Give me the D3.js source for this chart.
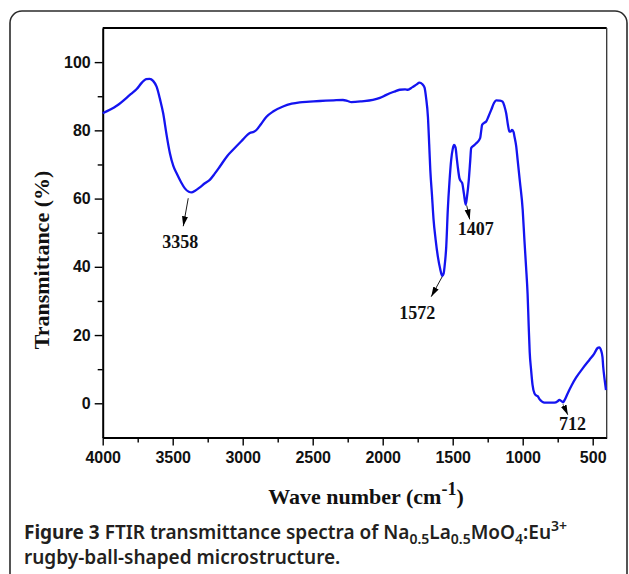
<!DOCTYPE html>
<html>
<head>
<meta charset="utf-8">
<script src="https://cdn.jsdelivr.net/npm/d3@7"></script>
<style>
    body { margin: 0; background: #fff; }
    svg { display: block; }
</style>
</head>
<body>
<svg id="chart" width="629" height="574"></svg>
<script>

// Data
const wavenumber = [
    4000, 3900, 3800, 3757, 3720, 3690, 3665, 3640, 3615, 3590, 3568, 3545, 3520, 3495, 3472,
    3440, 3413, 3385, 3365, 3340, 3306, 3270, 3235, 3200, 3163, 3110, 3069, 3010, 2949, 2920,
    2902, 2870, 2830, 2780, 2712, 2650, 2593, 2521, 2450, 2350, 2284, 2250, 2224, 2150, 2070,
    2020, 1974, 1920, 1879, 1840, 1820, 1790, 1760, 1737, 1718, 1701, 1690, 1677, 1668, 1660,
    1648, 1637, 1622, 1606, 1590, 1575, 1565, 1558, 1546, 1535, 1523, 1511, 1500, 1490, 1480,
    1470, 1464, 1452, 1440, 1432, 1420, 1407, 1398, 1385, 1375, 1368, 1350, 1332, 1304, 1296,
    1290, 1275, 1261, 1245, 1225, 1205, 1190, 1165, 1143, 1130, 1118, 1105, 1095, 1085, 1076,
    1065, 1059, 1047, 1036, 1020, 1000, 988, 976, 965, 957, 950, 940, 930, 916, 904,
    893, 880, 862, 845, 800, 774, 750, 738, 725, 712, 700, 679, 650, 619, 570,
    524, 490, 465, 453, 441, 430, 425, 415, 405
];
const transmittance = [
    85.0, 87.2, 90.6, 92.1, 94.0, 95.0, 95.1, 94.5, 92.8, 89.0, 85.0, 79.0, 73.3, 69.5, 67.4,
    64.8, 63.0, 62.0, 61.8, 62.3, 63.3, 64.5, 65.5, 67.3, 69.4, 72.5, 74.3, 76.8, 79.2, 79.6,
    80.1, 81.8, 84.0, 85.6, 87.0, 87.8, 88.2, 88.4, 88.6, 88.8, 88.9, 88.6, 88.3, 88.5, 88.9,
    89.5, 90.4, 91.3, 91.9, 92.0, 91.9, 92.6, 93.4, 94.0, 93.6, 92.5, 89.5, 84.0, 76.0, 68.4,
    61.0, 54.0, 48.0, 43.0, 39.5, 37.3, 38.0, 40.1, 46.0, 56.7, 65.0, 71.3, 74.5, 75.7, 75.0,
    71.5, 69.4, 66.0, 65.0, 64.5, 61.5, 58.2, 60.5, 65.5, 71.0, 74.8, 75.5, 76.2, 77.7, 80.0,
    81.6, 82.2, 82.6, 84.0, 86.0, 88.0, 88.8, 88.7, 88.4, 87.0, 85.0, 81.5, 79.6, 79.7, 80.1,
    79.5, 78.2, 75.5, 71.3, 65.0, 56.7, 48.0, 40.0, 32.0, 22.5, 15.0, 9.8, 5.5, 2.9, 2.3,
    2.1, 1.2, 0.5, 0.2, 0.2, 0.2, 0.6, 1.0, 0.7, 0.3, 1.0, 2.9, 5.3, 7.5, 10.3,
    12.7, 14.5, 16.2, 16.4, 15.6, 13.5, 10.7, 7.0, 3.9
];

const xTicks = [4000, 3500, 3000, 2500, 2000, 1500, 1000, 500];
const xMinorTicks = [3750, 3250, 2750, 2250, 1750, 1250, 750];
const yTicks = [0, 20, 40, 60, 80, 100];
const yMinorTicks = [10, 30, 50, 70, 90];

// Marked bands
const peakLabels = ['3358', '1572', '1407', '712'];
const peakWavenumber = [3389, 1575, 1400, 713];
const peakTransmittance = [60.1, 37.1, 58.0, -0.2];

// Layout
const PLOT = { left: 102.7, right: 606.7, top: 28, bottom: 437.4 };
const LINE_COLOR = '#1414f0';
const TICK_FONT = '"Liberation Sans", Arial, sans-serif';
const SERIF_FONT = '"Liberation Serif", "Times New Roman", serif';
const CAPTION_FONT = '"Noto Sans", "Open Sans", sans-serif';

// arrow start -> tip and label position, in px relative to the peak point
const ANNOT = [
    { tx: -5, ty: 28, lx: -8, ly: 50 },
    { tx: -11, ty: 20, lx: -25, ly: 42 },
    { tx: 3, ty: 14, lx: 9, ly: 30 },
    { tx: 5, ty: 11, lx: 9.5, ly: 26 }
];

const svg = d3.select('#chart');

// Figure frame (rounded box of the journal page)
svg.append('rect')
    .attr('x', 10).attr('y', 11)
    .attr('width', 617).attr('height', 640)
    .attr('rx', 12)
    .attr('fill', 'none')
    .attr('stroke', '#2b2b2b')
    .attr('stroke-width', 1.6);

// Scales
const x = d3.scaleLinear().domain([4000, 400]).range([PLOT.left, PLOT.right]);
const y = d3.scaleLinear().domain([-10, 110]).range([PLOT.bottom, PLOT.top]);

// Axes
svg.append('g')
    .attr('transform', `translate(0,${PLOT.bottom})`)
    .call(d3.axisBottom(x).tickValues(xTicks).tickSize(8).tickSizeOuter(0).tickPadding(6)
        .tickFormat(d3.format('d')));
svg.append('g')
    .attr('transform', `translate(0,${PLOT.bottom})`)
    .call(d3.axisBottom(x).tickValues(xMinorTicks).tickSize(5).tickSizeOuter(0).tickFormat(''))
    .select('.domain').remove();

svg.append('g')
    .attr('transform', `translate(${PLOT.left},0)`)
    .call(d3.axisLeft(y).tickValues(yTicks).tickSize(8).tickSizeOuter(0).tickPadding(4));
svg.append('g')
    .attr('transform', `translate(${PLOT.left},0)`)
    .call(d3.axisLeft(y).tickValues(yMinorTicks).tickSize(5).tickSizeOuter(0).tickFormat(''))
    .select('.domain').remove();

svg.selectAll('.domain').attr('stroke', '#000').attr('stroke-width', 2);
svg.selectAll('.tick line').attr('stroke', '#000').attr('stroke-width', 1.4);
svg.selectAll('.tick text')
    .attr('font-family', TICK_FONT)
    .attr('font-weight', 'bold')
    .attr('font-size', 16)
    .attr('fill', '#111');

// Top and right frame lines
svg.append('line')
    .attr('x1', PLOT.left).attr('x2', PLOT.right)
    .attr('y1', PLOT.top).attr('y2', PLOT.top)
    .attr('stroke', '#000').attr('stroke-width', 2);
svg.append('line')
    .attr('x1', PLOT.right).attr('x2', PLOT.right)
    .attr('y1', PLOT.top).attr('y2', PLOT.bottom)
    .attr('stroke', '#333').attr('stroke-width', 1.3);

// Spectrum
const points = wavenumber.map((w, i) => [w, transmittance[i]]);
const line = d3.line()
    .x((d) => x(d[0]))
    .y((d) => y(d[1]))
    .curve(d3.curveMonotoneX);

svg.append('path')
    .datum(points)
    .attr('d', line)
    .attr('fill', 'none')
    .attr('stroke', LINE_COLOR)
    .attr('stroke-width', 2.3)
    .attr('stroke-linejoin', 'round');

// Arrow head
svg.append('defs').append('marker')
    .attr('id', 'arrow')
    .attr('markerUnits', 'userSpaceOnUse')
    .attr('viewBox', '0 -4 10 8')
    .attr('refX', 10).attr('refY', 0)
    .attr('markerWidth', 10).attr('markerHeight', 8)
    .attr('orient', 'auto')
    .append('path')
    .attr('d', 'M0,-3L10,0L0,3Z')
    .attr('fill', '#000');

// Peak annotations
const annot = svg.append('g').attr('class', 'annotations');
peakLabels.forEach((label, i) => {
    const px = x(peakWavenumber[i]), py = y(peakTransmittance[i]);
    const a = ANNOT[i];
    annot.append('line')
        .attr('x1', px).attr('y1', py)
        .attr('x2', px + a.tx).attr('y2', py + a.ty)
        .attr('stroke', i === 3 ? '#555' : '#000')
        .attr('stroke-width', 0.9)
        .attr('marker-end', 'url(#arrow)');
    annot.append('text')
        .attr('x', px + a.lx).attr('y', py + a.ly)
        .attr('text-anchor', 'middle')
        .attr('font-family', SERIF_FONT)
        .attr('font-weight', 'bold')
        .attr('font-size', 18)
        .attr('fill', '#111')
        .text(label);
});

// Axis titles
svg.append('text')
    .attr('transform', 'translate(49,260) rotate(-90)')
    .attr('text-anchor', 'middle')
    .attr('font-family', SERIF_FONT)
    .attr('font-weight', 'bold')
    .attr('font-size', 22)
    .attr('fill', '#111')
    .text('Transmittance (%)');

const xTitle = svg.append('text')
    .attr('x', 366).attr('y', 504)
    .attr('text-anchor', 'middle')
    .attr('font-family', SERIF_FONT)
    .attr('font-weight', 'bold')
    .attr('font-size', 22)
    .attr('fill', '#111');
xTitle.append('tspan').text('Wave number (cm');
xTitle.append('tspan').attr('dy', -9).attr('font-size', 18).text('-1');
xTitle.append('tspan').attr('dy', 9).text(')');

// Caption
const cap1 = svg.append('text')
    .attr('x', 24).attr('y', 539)
    .attr('font-family', CAPTION_FONT)
    .attr('font-size', 19)
    .attr('font-weight', 600)
    .attr('fill', '#231f20');
cap1.append('tspan').attr('font-weight', 'bold').text('Figure 3');
cap1.append('tspan').text(' FTIR transmittance spectra of Na');
cap1.append('tspan').attr('dy', 5).attr('font-size', 14).text('0.5');
cap1.append('tspan').attr('dy', -5).text('La');
cap1.append('tspan').attr('dy', 5).attr('font-size', 14).text('0.5');
cap1.append('tspan').attr('dy', -5).text('MoO');
cap1.append('tspan').attr('dy', 5).attr('font-size', 14).text('4');
cap1.append('tspan').attr('dy', -5).text(':Eu');
cap1.append('tspan').attr('dy', -8).attr('font-size', 14).text('3+');

svg.append('text')
    .attr('x', 24).attr('y', 564)
    .attr('font-family', CAPTION_FONT)
    .attr('font-size', 19)
    .attr('font-weight', 600)
    .attr('fill', '#231f20')
    .text('rugby-ball-shaped microstructure.');

</script>
</body>
</html>
